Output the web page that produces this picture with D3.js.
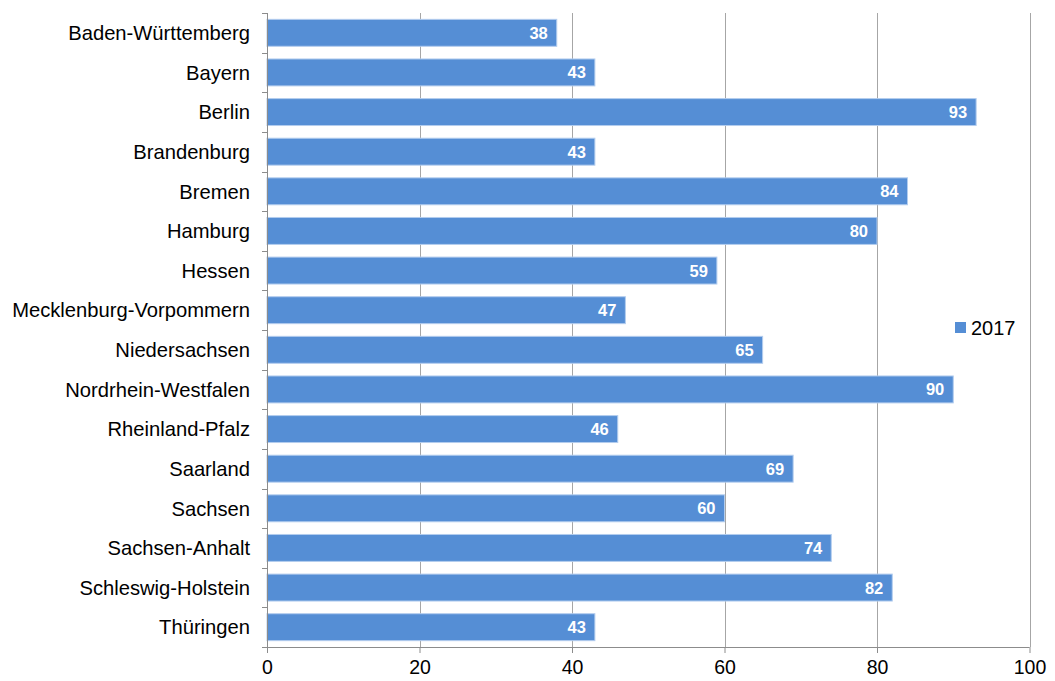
<!DOCTYPE html>
<html>
<head>
<meta charset="utf-8">
<script src="https://cdn.jsdelivr.net/npm/d3@7"></script>
<style>
  body { margin: 0; background: #fff; }
  svg { display: block; font-family: "Liberation Sans", Arial, sans-serif; }
</style>
</head>
<body>
<svg id="chart" width="1055" height="681"></svg>
<script>
// Federal states and their 2017 values
const states = [
  "Baden-Württemberg", "Bayern", "Berlin", "Brandenburg", "Bremen", "Hamburg",
  "Hessen", "Mecklenburg-Vorpommern", "Niedersachsen", "Nordrhein-Westfalen",
  "Rheinland-Pfalz", "Saarland", "Sachsen", "Sachsen-Anhalt",
  "Schleswig-Holstein", "Thüringen"
];
const values2017 = [38, 43, 93, 43, 84, 80, 59, 47, 65, 90, 46, 69, 60, 74, 82, 43];
const xTicks = [0, 20, 40, 60, 80, 100];
const seriesName = "2017";

const svg = d3.select("#chart");
const margin = { top: 13, left: 267 };
const plotW = 1029.5 - margin.left;
const plotH = 647 - margin.top;
const fontSize = 19.5;

const g = svg.append("g").attr("transform", `translate(${margin.left},${margin.top})`);

const x = d3.scaleLinear().domain([0, 100]).range([0, plotW]);
const y = d3.scaleBand().domain(states).range([0, plotH]).paddingInner(0.32).paddingOuter(0.16);

// vertical gridlines
g.append("g")
  .selectAll("line")
  .data(xTicks.filter(t => t > 0))
  .join("line")
  .attr("x1", d => Math.round(x(d)) + 0.5)
  .attr("x2", d => Math.round(x(d)) + 0.5)
  .attr("y1", 0)
  .attr("y2", plotH)
  .attr("stroke", "#a6a6a6")
  .attr("stroke-width", 1);

// bars
g.append("g")
  .selectAll("rect")
  .data(states.map((s, i) => ({ s, v: values2017[i] })))
  .join("rect")
  .attr("x", 0)
  .attr("y", d => y(d.s))
  .attr("width", d => x(d.v))
  .attr("height", y.bandwidth())
  .attr("fill", "#558ed5")
  .attr("stroke", "#b3cdee")
  .attr("stroke-width", 1);

// value labels inside bar ends
g.append("g")
  .selectAll("text")
  .data(states.map((s, i) => ({ s, v: values2017[i] })))
  .join("text")
  .attr("x", d => x(d.v) - 9)
  .attr("y", d => y(d.s) + y.bandwidth() / 2)
  .attr("dy", "0.36em")
  .attr("text-anchor", "end")
  .attr("fill", "#fff")
  .attr("font-weight", "bold")
  .attr("font-size", 16.5)
  .text(d => d.v);

// left axis with category boundary ticks
const yAxis = g.append("g");
yAxis.append("line")
  .attr("x1", 0.5).attr("x2", 0.5)
  .attr("y1", 0).attr("y2", plotH)
  .attr("stroke", "#8c8c8c");
const bounds = d3.range(states.length + 1).map(i => i * plotH / states.length);
yAxis.selectAll("line.tick")
  .data(bounds)
  .join("line")
  .attr("class", "tick")
  .attr("x1", -5).attr("x2", 0.5)
  .attr("y1", d => Math.round(d) + 0.5)
  .attr("y2", d => Math.round(d) + 0.5)
  .attr("stroke", "#8c8c8c");
yAxis.selectAll("text")
  .data(states)
  .join("text")
  .attr("x", -17)
  .attr("y", d => y(d) + y.bandwidth() / 2)
  .attr("dy", "0.36em")
  .attr("text-anchor", "end")
  .attr("font-size", 20.2)
  .attr("fill", "#000")
  .text(d => d);

// bottom axis
const xAxis = g.append("g").attr("transform", `translate(0,${plotH})`)
  .call(d3.axisBottom(x).tickValues(xTicks).tickSize(6).tickSizeOuter(0).tickFormat(d3.format("d")));
xAxis.select(".domain").attr("stroke", "#8c8c8c").attr("d", `M0,0.5H${plotW}`);
xAxis.selectAll(".tick line").attr("stroke", "#8c8c8c");
xAxis.selectAll(".tick text")
  .attr("font-size", fontSize)
  .attr("fill", "#000")
  .attr("font-family", "Liberation Sans, Arial, sans-serif")
  .attr("y", 13)
  .attr("dy", "0.71em");

// legend
const legend = svg.append("g").attr("transform", "translate(955,322)");
legend.append("rect").attr("width", 11).attr("height", 11).attr("fill", "#558ed5");
legend.append("text")
  .attr("x", 16).attr("y", 5.5).attr("dy", "0.36em")
  .attr("font-size", 20).attr("fill", "#000")
  .text(seriesName);
</script>
</body>
</html>
